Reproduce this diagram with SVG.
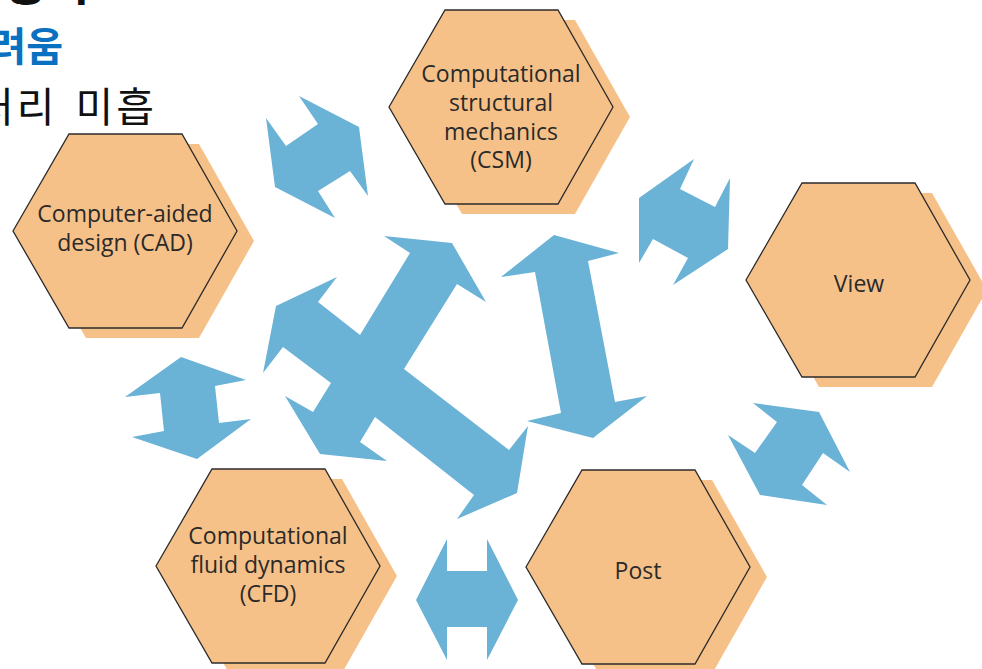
<svg xmlns="http://www.w3.org/2000/svg" width="982" height="669" viewBox="0 0 982 669">
  <defs>
    <style>
      .hex { fill: #F6C188; stroke: #2b2b2b; stroke-width: 1.3; stroke-linejoin: miter; }
      .shadow { fill: #F6C188; stroke: none; }
      .lbl { font-family: "Open Sans", "Noto Sans", sans-serif; font-size: 23px; fill: #2a2a2a; text-anchor: middle; }
      .arrow { fill: #6AB2D6; stroke: none; }
      .ko { font-family: "Noto Sans CJK KR", "Noto Sans", sans-serif; }
    </style>
    <!-- hexagon centred on the origin -->
    <polygon id="hexShape" points="-112,0 -56,-97 57,-97 112,0 57,97 -56,97"/>
  </defs>

  <rect width="982" height="669" fill="#ffffff"/>

  <!-- heading lines running off the top-left edge -->
  <g id="heading">
    <text class="ko" x="92" y="0" font-size="48" font-weight="bold" fill="#111" text-anchor="end">증가</text>
    <text class="ko" x="63" y="61" font-size="40" font-weight="bold" fill="#0A70C0" text-anchor="end">어려움</text>
    <text class="ko" x="-24" y="122" font-size="41" letter-spacing="3" word-spacing="6" fill="#111">처리 미흡</text>
  </g>

  <!-- connectors: block double arrows -->
  <g id="connectors">
    <polygon class="arrow" points="299,96 359,127 368,196 350,171 318,191 335,218 275,187 266,118 286,146 318,124"/>
    <polygon class="arrow" points="694,159 680,189 715,207 730,178 728,249 673,285 688,258 653,239 639,263 639,198"/>
    <polygon class="arrow" points="181,357 246,380 215,386 219,423 251,419 197,459 132,437 164,431 160,393 125,397"/>
    <polygon class="arrow" points="753,403 819,412 850,472 823,453 802,485 827,505 760,495 728,435 755,453 777,422"/>
    <polygon class="arrow" points="416,600 447,539 447,571 487,571 487,539 518,600 487,660 487,627 447,627 447,660"/>
    <polygon class="arrow" points="554,235 619,253 588,261 615,402 647,396 593,438 527,421 561,413 535,272 501,277"/>
    <polygon class="arrow" points="410,253 384,236 452,243 486,302 457,284 404,369 509,450 528,426 517,493 457,519 474,495 375,417 360,442 387,461 320,454 285,396 313,412 331,383 283,347 263,373 276,306 337,277 318,302 360,335"/>
  </g>

  <g id="csm">
    <use href="#hexShape" class="shadow" x="518" y="117"/>
    <use href="#hexShape" class="hex" x="501" y="107"/>
    <text class="lbl" x="501" y="82">Computational</text>
    <text class="lbl" x="501" y="111">structural</text>
    <text class="lbl" x="501" y="140">mechanics</text>
    <text class="lbl" x="501" y="168">(CSM)</text>
  </g>

  <g id="cad">
    <use href="#hexShape" class="shadow" x="142" y="241"/>
    <use href="#hexShape" class="hex" x="125" y="231"/>
    <text class="lbl" x="125" y="222">Computer-aided</text>
    <text class="lbl" x="125" y="251">design (CAD)</text>
  </g>

  <g id="view">
    <use href="#hexShape" class="shadow" x="875" y="290"/>
    <use href="#hexShape" class="hex" x="858" y="280"/>
    <text class="lbl" x="859" y="292">View</text>
  </g>

  <g id="cfd">
    <use href="#hexShape" class="shadow" x="285" y="576"/>
    <use href="#hexShape" class="hex" x="268" y="566"/>
    <text class="lbl" x="268" y="544">Computational</text>
    <text class="lbl" x="268" y="573">fluid dynamics</text>
    <text class="lbl" x="268" y="602">(CFD)</text>
  </g>

  <g id="post">
    <use href="#hexShape" class="shadow" x="655" y="577"/>
    <use href="#hexShape" class="hex" x="638" y="567"/>
    <text class="lbl" x="638" y="579">Post</text>
  </g>
</svg>
